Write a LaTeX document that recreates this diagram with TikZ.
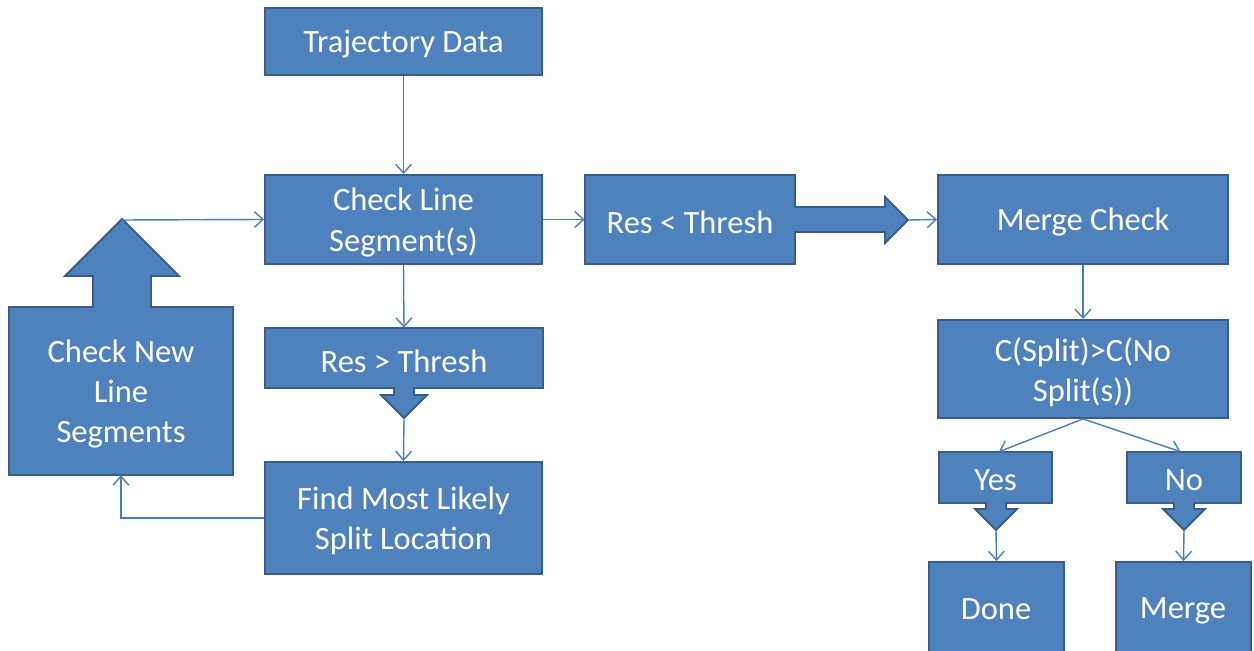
\documentclass[tikz,border=0pt]{standalone}
\usepackage{fontspec}
\setmainfont{Carlito}
\usetikzlibrary{arrows.meta}
\definecolor{boxfill}{HTML}{4F81BD}
\definecolor{boxline}{HTML}{385D8A}
\definecolor{linkcol}{HTML}{4A7EBB}
\tikzset{
  blockline/.style={fill=boxfill, draw=boxline, line width=1.1pt, line join=miter},
  label text/.style={text=white, font=\fontsize{18.5pt}{23pt}\selectfont, align=center,
    inner sep=0pt, yshift=-0.06cm},
  stepbox/.style={blockline, inner sep=0pt},
  areabox/.style={inner sep=0pt},
  link/.style={draw=linkcol, line width=0.8pt, -{Straight Barb[length=5pt,width=9pt,line width=0.8pt]}}
}
% box given by pixel corners (x1,y1) (x2,y2), with its label
\newcommand{\pbox}[7][]{%
  \node[#1, minimum width={(#4-#2)*0.02cm}, minimum height={(#5-#3)*0.02cm}]
    (#6) at ({(#2+#4)/2},{(#3+#5)/2}) {};
  \node[label text] (#6-text) at (#6.center) {#7};}
\begin{document}
\begin{tikzpicture}[x=0.02cm, y=-0.02cm]
\useasboundingbox (0,0) rectangle (1254,651);

% plain process boxes
\pbox[stepbox]{265}{8}{542}{75}{traj}{Trajectory Data}
\pbox[stepbox]{265}{175}{542}{264}{check}{Check Line\\Segment(s)}
\pbox[stepbox]{938}{175}{1228}{264}{mcheck}{Merge Check}
\pbox[stepbox]{938}{320}{1228}{418}{cost}{C(Split)>C(No\\Split(s))}
\pbox[stepbox]{265}{462}{542}{574}{find}{Find Most Likely\\Split Location}
\node[stepbox, minimum width=2.7cm, minimum height=1.96cm] (done) at (996.5,611) {};
\node[label text] (done-text) at (996,606) {Done};
\node[stepbox, minimum width=2.7cm, minimum height=1.96cm] (merge) at (1183.5,611) {};
\node[label text] (merge-text) at (1183,608) {Merge};

% boxes carrying a block arrow
\path[blockline] (585,175) -- (795,175) -- (795,207) -- (885,207) -- (885,197)
  -- (908,220) -- (885,243) -- (885,232) -- (795,232) -- (795,264) -- (585,264) -- cycle;
\pbox[areabox]{585}{175}{795}{264}{resl}{Res < Thresh}
\coordinate (reslTip) at (908,220);

\path[blockline] (265,328) -- (543,328) -- (543,388) -- (414,388) -- (414,395) -- (427,395)
  -- (404,418) -- (381,395) -- (394,395) -- (394,388) -- (265,388) -- cycle;
\pbox[areabox]{265}{328}{543}{388}{resg}{Res > Thresh}
\coordinate (resgTip) at (404,418);

\path[blockline] (9,307) -- (93,307) -- (93,276) -- (65,276) -- (122,219) -- (179,276)
  -- (151,276) -- (151,307) -- (233,307) -- (233,475) -- (9,475) -- cycle;
\pbox[areabox]{9}{307}{233}{475}{newseg}{Check New\\Line\\Segments}
\coordinate (newsegTip) at (122,220);

\path[blockline] (939,452) -- (1052,452) -- (1052,503) -- (1006,503) -- (1006,509) -- (1017,509)
  -- (996,530) -- (975,509) -- (986,509) -- (986,503) -- (939,503) -- cycle;
\pbox[areabox]{939}{452}{1052}{503}{yes}{Yes}
\coordinate (yesTip) at (996,530);

\path[blockline] (1127,452) -- (1241,452) -- (1241,503) -- (1194,503) -- (1194,509) -- (1205,509)
  -- (1184,530) -- (1163,509) -- (1174,509) -- (1174,503) -- (1127,503) -- cycle;
\pbox[areabox]{1127}{452}{1241}{503}{no}{No}
\coordinate (noTip) at (1184,530);

% connectors
\draw[link] (traj.south) -- (check.north);
\draw[link] (check.east) -- (resl.west);
\draw[link] (reslTip) -- (mcheck.west);
\draw[link] (mcheck.south) -- (cost.north);
\draw[link] (cost.south) -- ([xshift=2]yes.north);
\draw[link] (cost.south) -- ([xshift=-2]no.north);
\draw[link] (yesTip) -- (done.north);
\draw[link] (noTip) -- (merge.north);
\draw[link] (check.south) -- (resg.north);
\draw[link] (resgTip) -- (find.north);
\draw[link] (newsegTip) -- (check.west);
\draw[link] (find.west) -| (newseg.south);
\end{tikzpicture}
\end{document}
